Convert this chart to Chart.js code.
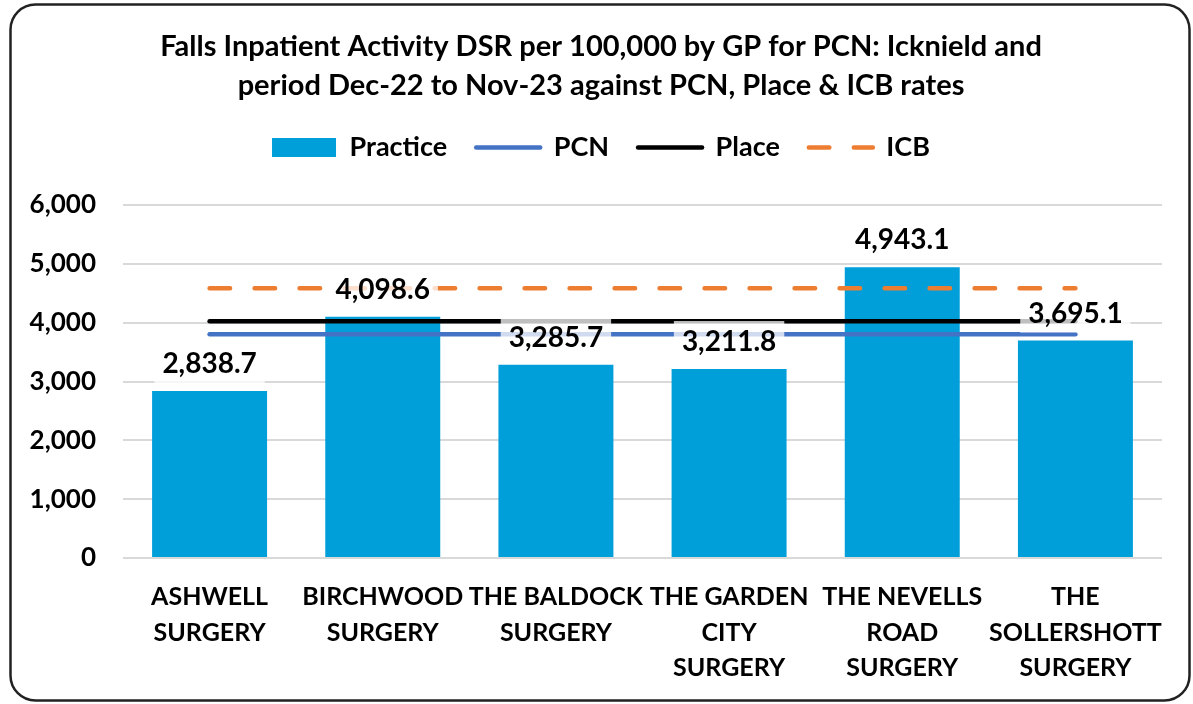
<!DOCTYPE html>
<html>
<head>
<meta charset="utf-8">
<script src="https://cdn.jsdelivr.net/npm/chart.js@4.4.1/dist/chart.umd.min.js"></script>
<style>
html,body{margin:0;padding:0;background:#fff;overflow:hidden;}
canvas{display:block;}
</style>
</head>
<body>
<canvas id="c" width="1193" height="704"></canvas>
<script>
const titleLines = ["Falls Inpatient Activity DSR per 100,000 by GP for PCN: Icknield and",
                    "period Dec-22 to Nov-23 against PCN, Place & ICB rates"];
const categories = [
  ["ASHWELL", "SURGERY"],
  ["BIRCHWOOD", "SURGERY"],
  ["THE BALDOCK", "SURGERY"],
  ["THE GARDEN", "CITY", "SURGERY"],
  ["THE NEVELLS", "ROAD", "SURGERY"],
  ["THE", "SOLLERSHOTT", "SURGERY"]
];
const practice = [2838.7, 4098.6, 3285.7, 3211.8, 4943.1, 3695.1];
const pcn   = [3805, 3805, 3805, 3805, 3805, 3805];
const place = [4025, 4025, 4025, 4025, 4025, 4025];
const icb   = [4585, 4585, 4585, 4585, 4585, 4585];
const yTicks = [0, 1000, 2000, 3000, 4000, 5000, 6000];

const FONT = 'Lato';
const fmt1 = v => v.toLocaleString('en-US', {minimumFractionDigits: 1, maximumFractionDigits: 1});

const frame = {
  id: 'frame',
  beforeDraw(chart) {
    const ctx = chart.ctx;
    ctx.save();
    ctx.fillStyle = '#fff';
    ctx.fillRect(0, 0, chart.width, chart.height);
    const x = 10.5, y = 4.5, w = 1179, h = 696, r = 25;
    ctx.beginPath();
    ctx.moveTo(x + r, y);
    ctx.lineTo(x + w - r, y);
    ctx.arcTo(x + w, y, x + w, y + r, r);
    ctx.lineTo(x + w, y + h - r);
    ctx.arcTo(x + w, y + h, x + w - r, y + h, r);
    ctx.lineTo(x + r, y + h);
    ctx.arcTo(x, y + h, x, y + h - r, r);
    ctx.lineTo(x, y + r);
    ctx.arcTo(x, y, x + r, y, r);
    ctx.closePath();
    ctx.lineWidth = 2.5;
    ctx.strokeStyle = '#222';
    ctx.stroke();
    ctx.restore();
  }
};

const legendGap = {
  id: 'legendGap',
  beforeLayout(chart) {
    const lg = chart.legend;
    if (lg && !lg._gapPatched) {
      const f = lg.fit;
      lg.fit = function () { f.call(this); this.height += 34; };
      lg._gapPatched = true;
    }
  }
};

const barLabels = {
  id: 'barLabels',
  afterDatasetsDraw(chart) {
    const ctx = chart.ctx;
    const meta = chart.getDatasetMeta(0);
    ctx.save();
    ctx.font = 'bold 28px ' + FONT;
    ctx.textAlign = 'center';
    ctx.textBaseline = 'middle';
    meta.data.forEach((bar, i) => {
      const txt = fmt1(practice[i]);
      const w = ctx.measureText(txt).width + 16;
      const h = 40;
      const cx = bar.x, cy = bar.y - 28;
      ctx.fillStyle = 'rgba(255,255,255,0.75)';
      ctx.fillRect(cx - w / 2, cy - h / 2, w, h);
      ctx.fillStyle = '#000';
      ctx.fillText(txt, cx, cy + 1);
    });
    ctx.restore();
  }
};

function build() {
  Chart.defaults.font.family = FONT;
  Chart.defaults.color = '#000';
  new Chart(document.getElementById('c'), {
    data: {
      labels: categories,
      datasets: [
        {type: 'bar', label: 'Practice', data: practice, backgroundColor: '#009FDA',
         barPercentage: 0.664, categoryPercentage: 1.0, order: 10},
        {type: 'line', label: 'PCN', data: pcn, borderColor: '#4472C4', backgroundColor: '#4472C4',
         borderWidth: 4.5, borderCapStyle: 'round', pointRadius: 0, pointHoverRadius: 0, order: 3},
        {type: 'line', label: 'Place', data: place, borderColor: '#000000', backgroundColor: '#000000',
         borderWidth: 4.5, borderCapStyle: 'round', pointRadius: 0, pointHoverRadius: 0, order: 2},
        {type: 'line', label: 'ICB', data: icb, borderColor: '#ED7D31', backgroundColor: '#ED7D31',
         borderWidth: 4.5, borderCapStyle: 'round', borderDash: [20.5, 24.5], pointRadius: 0, pointHoverRadius: 0, order: 1}
      ]
    },
    options: {
      responsive: false,
      animation: false,
      events: [],
      layout: {padding: {left: 40, right: 31, top: 0, bottom: 0}},
      plugins: {
        title: {
          display: true,
          text: titleLines,
          color: '#000',
          font: {family: FONT, size: 29, weight: 'bold', lineHeight: 1.345},
          padding: {top: 27, bottom: 0}
        },
        legend: {
          display: true,
          position: 'top',
          labels: {
            font: {family: FONT, size: 27, weight: 'bold'},
            color: '#000',
            usePointStyle: true,
            pointStyleWidth: 64,
            boxHeight: 19,
            padding: 29,
            generateLabels(chart) {
              return chart.data.datasets.map((ds, i) => ({
                text: ds.label,
                fillStyle: ds.backgroundColor,
                strokeStyle: ds.borderColor || ds.backgroundColor,
                lineWidth: ds.type === 'bar' ? 0 : 4.5,
                lineDash: ds.borderDash || [],
                lineCap: 'round',
                pointStyle: ds.type === 'bar' ? 'rect' : 'line',
                fontColor: '#000',
                hidden: false,
                datasetIndex: i
              }));
            }
          }
        },
        tooltip: {enabled: false}
      },
      scales: {
        x: {
          grid: {display: false, drawTicks: false},
          border: {display: false},
          ticks: {
            font: {family: FONT, size: 25, weight: 'bold', lineHeight: 1.43},
            color: '#000',
            padding: 21,
            maxRotation: 0,
            minRotation: 0,
            autoSkip: false
          },
          afterFit(s) { s.height = 146; }
        },
        y: {
          min: 0,
          max: 6000,
          afterBuildTicks(s) { s.ticks = yTicks.map(v => ({value: v})); },
          grid: {color: '#D9D9D9', lineWidth: 2, drawTicks: false},
          border: {display: false},
          ticks: {
            font: {family: FONT, size: 26, weight: 'bold'},
            color: '#000',
            padding: 27,
            callback: v => v.toLocaleString('en-US')
          },
          afterFit(s) {
            s.width = 83;
            s._computeLabelArea = function () { return undefined; };
          }
        }
      }
    },
    plugins: [frame, legendGap, barLabels]
  });
}

if (document.fonts && document.fonts.load) {
  Promise.all([document.fonts.load('bold 26px Lato')]).then(build, build);
} else {
  build();
}
</script>
</body>
</html>
